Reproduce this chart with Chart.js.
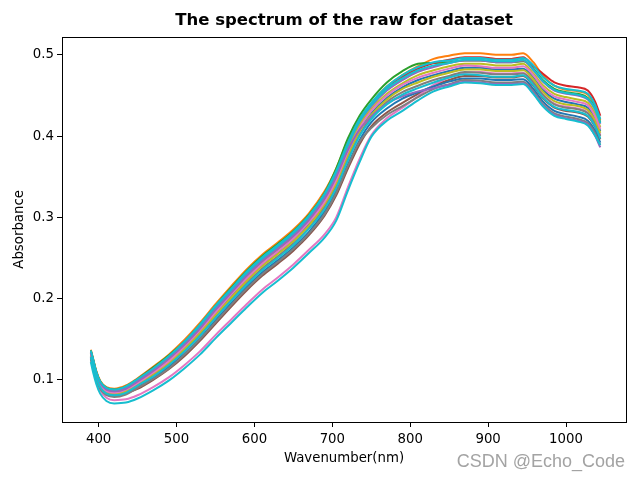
<!DOCTYPE html>
<html>
<head>
<meta charset="utf-8">
<script src="https://cdn.jsdelivr.net/npm/chart.js@4.4.1/dist/chart.umd.min.js"></script>
<style>
    html, body { margin: 0; padding: 0; background: #fff; }
</style>
</head>
<body>
<canvas id="chart" width="640" height="480"></canvas>
<script>
// wavelengths (nm) the spectra are sampled at
const wavelengths = [390, 393, 397, 402, 410, 420, 435, 450, 470, 490,
    510, 530, 550, 570, 590, 610, 630, 650, 670, 690,
    705, 720, 735, 750, 770, 790, 810, 830, 850, 870,
    890, 910, 930, 945, 958, 970, 985, 1000, 1015, 1028,
    1037, 1044];

const xTicks = [400, 500, 600, 700, 800, 900, 1000];
const yTicks = [0.1, 0.2, 0.3, 0.4, 0.5];

// absorbance of each sample
const spec01 = [0.131, 0.120, 0.106, 0.094, 0.086, 0.084, 0.087, 0.096, 0.108, 0.122,
    0.139, 0.159, 0.181, 0.203, 0.223, 0.241, 0.256, 0.272, 0.292, 0.317,
    0.344, 0.378, 0.408, 0.428, 0.447, 0.460, 0.469, 0.475, 0.480, 0.484,
    0.484, 0.482, 0.482, 0.483, 0.472, 0.457, 0.446, 0.442, 0.439, 0.435,
    0.422, 0.406];
const spec02 = [0.137, 0.126, 0.111, 0.099, 0.091, 0.089, 0.093, 0.102, 0.116, 0.131,
    0.149, 0.170, 0.193, 0.215, 0.236, 0.254, 0.269, 0.285, 0.305, 0.332,
    0.360, 0.395, 0.421, 0.440, 0.461, 0.475, 0.486, 0.495, 0.499, 0.502,
    0.502, 0.500, 0.500, 0.502, 0.491, 0.475, 0.462, 0.457, 0.455, 0.451,
    0.438, 0.420];
const spec03 = [0.136, 0.125, 0.110, 0.098, 0.090, 0.088, 0.092, 0.101, 0.115, 0.130,
    0.147, 0.168, 0.191, 0.213, 0.234, 0.252, 0.267, 0.283, 0.303, 0.330,
    0.360, 0.397, 0.425, 0.445, 0.466, 0.480, 0.489, 0.490, 0.491, 0.493,
    0.493, 0.491, 0.491, 0.492, 0.483, 0.469, 0.458, 0.454, 0.452, 0.447,
    0.435, 0.417];
const spec04 = [0.135, 0.124, 0.109, 0.097, 0.089, 0.087, 0.091, 0.100, 0.114, 0.128,
    0.146, 0.167, 0.189, 0.211, 0.232, 0.250, 0.265, 0.281, 0.301, 0.327,
    0.355, 0.391, 0.420, 0.439, 0.460, 0.473, 0.483, 0.490, 0.494, 0.497,
    0.497, 0.495, 0.495, 0.497, 0.486, 0.477, 0.466, 0.462, 0.460, 0.456,
    0.443, 0.425];
const spec05 = [0.134, 0.123, 0.108, 0.096, 0.088, 0.086, 0.090, 0.099, 0.112, 0.127,
    0.144, 0.165, 0.187, 0.209, 0.230, 0.248, 0.263, 0.279, 0.298, 0.325,
    0.352, 0.387, 0.416, 0.436, 0.456, 0.469, 0.479, 0.485, 0.490, 0.493,
    0.493, 0.491, 0.491, 0.493, 0.481, 0.467, 0.456, 0.452, 0.450, 0.445,
    0.433, 0.415];
const spec06 = [0.128, 0.117, 0.103, 0.091, 0.083, 0.081, 0.084, 0.089, 0.100, 0.113,
    0.129, 0.148, 0.169, 0.190, 0.210, 0.228, 0.243, 0.259, 0.278, 0.302,
    0.327, 0.360, 0.390, 0.412, 0.429, 0.441, 0.452, 0.462, 0.469, 0.474,
    0.474, 0.472, 0.472, 0.474, 0.462, 0.447, 0.435, 0.431, 0.429, 0.424,
    0.412, 0.396];
const spec07 = [0.126, 0.113, 0.099, 0.087, 0.078, 0.075, 0.076, 0.081, 0.091, 0.103,
    0.118, 0.135, 0.155, 0.174, 0.193, 0.211, 0.226, 0.242, 0.260, 0.279,
    0.300, 0.337, 0.372, 0.401, 0.422, 0.435, 0.449, 0.463, 0.472, 0.478,
    0.479, 0.477, 0.477, 0.478, 0.467, 0.452, 0.440, 0.436, 0.434, 0.429,
    0.417, 0.401];
const spec08 = [0.129, 0.118, 0.104, 0.092, 0.084, 0.082, 0.085, 0.094, 0.106, 0.119,
    0.136, 0.156, 0.177, 0.199, 0.219, 0.237, 0.252, 0.268, 0.287, 0.313,
    0.339, 0.373, 0.402, 0.423, 0.442, 0.454, 0.462, 0.469, 0.474, 0.479,
    0.478, 0.476, 0.476, 0.477, 0.466, 0.451, 0.439, 0.435, 0.433, 0.428,
    0.416, 0.400];
const spec09 = [0.133, 0.122, 0.107, 0.095, 0.087, 0.085, 0.089, 0.097, 0.110, 0.125,
    0.142, 0.162, 0.185, 0.206, 0.227, 0.245, 0.260, 0.276, 0.296, 0.322,
    0.348, 0.383, 0.413, 0.433, 0.452, 0.465, 0.475, 0.481, 0.486, 0.489,
    0.489, 0.487, 0.487, 0.489, 0.477, 0.463, 0.452, 0.448, 0.445, 0.441,
    0.428, 0.411];
const spec10 = [0.135, 0.124, 0.109, 0.097, 0.089, 0.087, 0.091, 0.099, 0.113, 0.127,
    0.145, 0.166, 0.188, 0.210, 0.231, 0.249, 0.264, 0.280, 0.300, 0.326,
    0.353, 0.389, 0.418, 0.438, 0.458, 0.471, 0.481, 0.487, 0.490, 0.494,
    0.494, 0.492, 0.492, 0.494, 0.482, 0.468, 0.457, 0.453, 0.451, 0.446,
    0.434, 0.416];
const spec11 = [0.127, 0.116, 0.102, 0.090, 0.082, 0.080, 0.083, 0.091, 0.102, 0.116,
    0.132, 0.151, 0.173, 0.194, 0.214, 0.232, 0.247, 0.263, 0.282, 0.307,
    0.332, 0.365, 0.395, 0.417, 0.434, 0.446, 0.454, 0.461, 0.467, 0.471,
    0.471, 0.469, 0.469, 0.470, 0.458, 0.443, 0.431, 0.427, 0.424, 0.419,
    0.407, 0.392];
const spec12 = [0.130, 0.119, 0.105, 0.093, 0.085, 0.083, 0.086, 0.095, 0.107, 0.121,
    0.138, 0.158, 0.180, 0.201, 0.222, 0.240, 0.255, 0.271, 0.290, 0.316,
    0.342, 0.376, 0.406, 0.426, 0.445, 0.458, 0.466, 0.473, 0.478, 0.482,
    0.482, 0.480, 0.480, 0.481, 0.470, 0.455, 0.443, 0.439, 0.437, 0.432,
    0.420, 0.404];
const spec13 = [0.132, 0.121, 0.106, 0.094, 0.086, 0.084, 0.088, 0.096, 0.109, 0.123,
    0.141, 0.161, 0.183, 0.205, 0.225, 0.243, 0.258, 0.274, 0.294, 0.319,
    0.346, 0.381, 0.410, 0.431, 0.450, 0.463, 0.472, 0.478, 0.483, 0.487,
    0.486, 0.484, 0.484, 0.486, 0.475, 0.460, 0.449, 0.445, 0.442, 0.438,
    0.425, 0.409];
const spec14 = [0.126, 0.115, 0.101, 0.089, 0.081, 0.079, 0.082, 0.090, 0.101, 0.114,
    0.131, 0.150, 0.171, 0.192, 0.212, 0.230, 0.245, 0.261, 0.280, 0.304,
    0.330, 0.363, 0.393, 0.410, 0.426, 0.437, 0.448, 0.458, 0.464, 0.469,
    0.468, 0.466, 0.466, 0.467, 0.455, 0.440, 0.428, 0.424, 0.421, 0.416,
    0.404, 0.389];
const spec15 = [0.133, 0.122, 0.108, 0.096, 0.088, 0.086, 0.089, 0.098, 0.111, 0.126,
    0.143, 0.163, 0.186, 0.207, 0.228, 0.246, 0.261, 0.277, 0.297, 0.323,
    0.350, 0.383, 0.408, 0.424, 0.440, 0.449, 0.455, 0.459, 0.463, 0.467,
    0.466, 0.464, 0.464, 0.465, 0.453, 0.438, 0.426, 0.422, 0.419, 0.414,
    0.401, 0.386];
const spec16 = [0.128, 0.117, 0.103, 0.091, 0.083, 0.081, 0.084, 0.093, 0.104, 0.118,
    0.135, 0.154, 0.176, 0.197, 0.217, 0.235, 0.250, 0.266, 0.286, 0.310,
    0.336, 0.370, 0.400, 0.421, 0.439, 0.451, 0.459, 0.466, 0.472, 0.476,
    0.475, 0.473, 0.473, 0.475, 0.463, 0.448, 0.436, 0.432, 0.430, 0.425,
    0.413, 0.397];
const spec17 = [0.136, 0.125, 0.110, 0.098, 0.090, 0.088, 0.092, 0.101, 0.114, 0.129,
    0.147, 0.168, 0.191, 0.212, 0.233, 0.251, 0.266, 0.282, 0.302, 0.329,
    0.357, 0.392, 0.421, 0.441, 0.461, 0.475, 0.485, 0.491, 0.493, 0.496,
    0.496, 0.494, 0.494, 0.496, 0.487, 0.473, 0.462, 0.458, 0.456, 0.452,
    0.439, 0.421];
const spec18 = [0.122, 0.109, 0.095, 0.083, 0.074, 0.071, 0.072, 0.077, 0.087, 0.099,
    0.114, 0.131, 0.151, 0.170, 0.189, 0.207, 0.222, 0.238, 0.256, 0.275,
    0.296, 0.333, 0.368, 0.399, 0.419, 0.431, 0.444, 0.455, 0.461, 0.466,
    0.465, 0.463, 0.463, 0.464, 0.452, 0.437, 0.425, 0.421, 0.418, 0.413,
    0.401, 0.389];

const spectra = [spec01, spec02, spec03, spec04, spec05, spec06, spec07, spec08, spec09,
    spec10, spec11, spec12, spec13, spec14, spec15, spec16, spec17, spec18];

// matplotlib tab10 cycle
const lineColors = ['#1f77b4', '#ff7f0e', '#2ca02c', '#d62728', '#9467bd', '#8c564b',
    '#e377c2', '#7f7f7f', '#bcbd22', '#17becf', '#1f77b4', '#bcbd22',
    '#e377c2', '#7f7f7f', '#9467bd', '#17becf', '#17becf', '#17becf'];

const FONT = 'DejaVu Sans';

// box round the plot + watermark
const framePlugin = {
    id: 'frame',
    afterDraw(chart) {
        const { ctx, chartArea } = chart;
        ctx.save();
        ctx.strokeStyle = '#000';
        ctx.lineWidth = 1;
        ctx.strokeRect(Math.round(chartArea.left) + 0.5, Math.round(chartArea.top) + 0.5,
            Math.round(chartArea.right - chartArea.left), Math.round(chartArea.bottom - chartArea.top));

        ctx.font = '18px "Liberation Sans"';
        ctx.textAlign = 'right';
        ctx.textBaseline = 'middle';
        ctx.fillStyle = '#a3a3a3';
        ctx.fillText('CSDN @Echo_Code', 625, 462);
        ctx.restore();
    }
};

const datasets = spectra.map((values, i) => ({
    data: values.map((v, j) => ({ x: wavelengths[j], y: v })),
    borderColor: lineColors[i],
    borderWidth: 2,
    pointRadius: 0,
    fill: false,
    cubicInterpolationMode: 'monotone',
    order: spectra.length - i
}));

new Chart(document.getElementById('chart').getContext('2d'), {
    type: 'line',
    data: { datasets },
    plugins: [framePlugin],
    options: {
        responsive: false,
        animation: false,
        devicePixelRatio: 1,
        layout: { padding: { top: 0, right: 14, bottom: 0, left: 0 } },
        plugins: {
            legend: { display: false },
            tooltip: { enabled: false },
            title: {
                display: true,
                fullSize: false,
                text: 'The spectrum of the raw for dataset',
                color: '#000',
                font: { family: FONT, size: 16.5, weight: 'bold', lineHeight: 1.2 },
                padding: { top: 11, bottom: 6 }
            }
        },
        scales: {
            x: {
                type: 'linear',
                min: 353,
                max: 1077,
                afterFit: (scale) => { scale.height = 58; },
                afterBuildTicks: (scale) => { scale.ticks = xTicks.map(v => ({ value: v })); },
                border: { display: false },
                grid: { drawOnChartArea: false, drawTicks: true, tickLength: 5, color: '#000' },
                ticks: {
                    color: '#000',
                    padding: 5,
                    maxRotation: 0,
                    font: { family: FONT, size: 13.3 },
                    callback: (v) => String(v)
                },
                title: {
                    display: true,
                    text: 'Wavenumber(nm)',
                    color: '#000',
                    font: { family: FONT, size: 13.3 },
                    padding: { top: 0, bottom: 13 }
                }
            },
            y: {
                min: 0.0481,
                max: 0.5222,
                afterFit: (scale) => { scale.width = 62; },
                afterBuildTicks: (scale) => { scale.ticks = yTicks.map(v => ({ value: v })); },
                border: { display: false },
                grid: { drawOnChartArea: false, drawTicks: true, tickLength: 5, color: '#000' },
                ticks: {
                    color: '#000',
                    padding: 3,
                    font: { family: FONT, size: 13.3 },
                    callback: (v) => v.toFixed(1)
                },
                title: {
                    display: true,
                    text: 'Absorbance',
                    color: '#000',
                    font: { family: FONT, size: 13.3 },
                    padding: { top: 12, bottom: 0 }
                }
            }
        }
    }
});
</script>
</body>
</html>
